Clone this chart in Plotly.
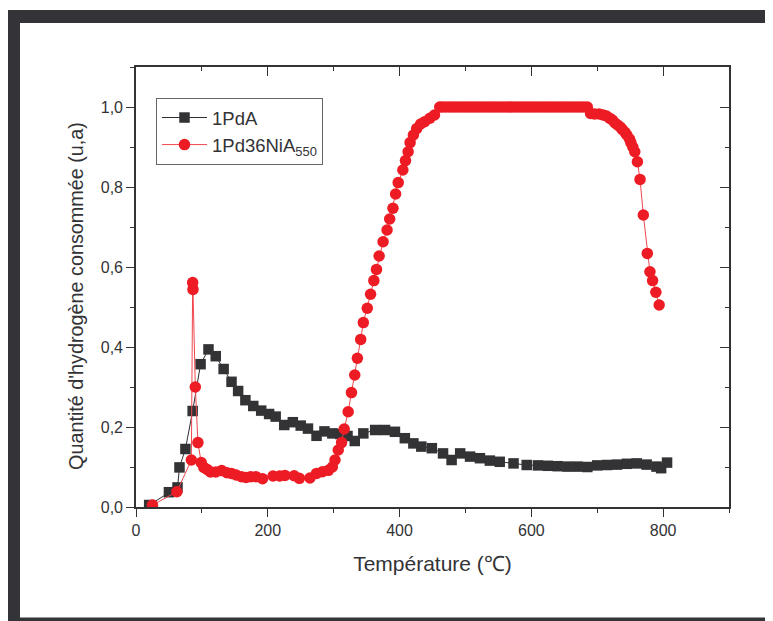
import plotly.graph_objects as go

# ---- data ----
temp_pda = [20, 50, 63, 66, 75, 86, 98, 110, 121, 133, 145, 155, 166, 178, 190, 202, 212, 225,
            238, 250, 261, 274, 286, 298, 310, 321, 332, 345, 363, 378, 393, 408, 421, 433, 449,
            466, 479, 492, 507, 522, 537, 552, 573, 593, 610, 625, 640, 655, 670, 685, 700, 715,
            730, 745, 760, 775, 790, 797, 806]
h2_pda = [0.005, 0.037, 0.049, 0.099, 0.145, 0.24, 0.357, 0.394, 0.377, 0.345, 0.313, 0.29,
          0.267, 0.2525, 0.241, 0.2325, 0.226, 0.205, 0.212, 0.2035, 0.196, 0.178, 0.189, 0.184,
          0.1825, 0.1775, 0.165, 0.184, 0.1925, 0.1925, 0.188, 0.172, 0.159, 0.151, 0.147, 0.134,
          0.1175, 0.134, 0.126, 0.122, 0.116, 0.113, 0.109, 0.105, 0.104, 0.103, 0.102, 0.101,
          0.101, 0.100, 0.104, 0.105, 0.106, 0.108, 0.109, 0.106, 0.101, 0.097, 0.111]

temp_pdni = [25, 62, 84, 86, 86.5, 90, 94, 99, 103, 108, 113, 121, 130, 138, 145, 152, 160, 167,
             174, 182, 192, 208, 218, 226, 240, 248, 264, 274, 283, 292, 298, 302, 307, 312, 316,
             322, 327, 332, 336, 341, 345, 351, 356, 361, 365, 369, 375, 381, 385, 390, 394, 398,
             405, 409, 413, 416, 421, 426, 432, 438, 446, 453, 461,
             465, 470, 475, 480, 485, 490, 495, 500, 505, 510, 515, 520, 525, 530, 535, 540, 545,
             550, 555, 560, 565, 570, 575, 580, 585, 590, 595, 600, 605, 610, 615, 620, 625, 630,
             635, 640, 645, 650, 655, 660, 665, 670, 675, 680, 685, 690,
             696, 703, 709, 714, 719, 723, 727, 731, 735, 738, 742, 745, 749, 751, 754, 757, 761,
             765, 770, 776, 780, 784, 789, 794, 800]
h2_pdni = [0.005, 0.038, 0.1175, 0.561, 0.544, 0.30, 0.161, 0.111, 0.099, 0.094, 0.0875, 0.0875,
           0.091, 0.0857, 0.084, 0.080, 0.0758, 0.074, 0.0758, 0.0758, 0.0708, 0.0775, 0.0775,
           0.079, 0.078, 0.0717, 0.0725, 0.084, 0.088, 0.0917, 0.100, 0.1175, 0.1425, 0.161,
           0.195, 0.238, 0.286, 0.33, 0.372, 0.419, 0.461, 0.497, 0.532, 0.566, 0.594, 0.6275,
           0.663, 0.6925, 0.72, 0.747, 0.7825, 0.811, 0.8425, 0.866, 0.888, 0.911, 0.93, 0.946,
           0.9575, 0.963, 0.972, 0.98, 1.0,
           1.0, 1.0, 1.0, 1.0, 1.0, 1.0, 1.0, 1.0, 1.0, 1.0, 1.0, 1.0, 1.0, 1.0, 1.0, 1.0, 1.0,
           1.0, 1.0, 1.0, 1.0, 1.0, 1.0, 1.0, 1.0, 1.0, 1.0, 1.0, 1.0, 1.0, 1.0, 1.0, 1.0,
           1.0, 1.0, 1.0, 1.0, 1.0, 1.0, 1.0, 1.0, 1.0, 1.0, 1.0, 1.0,
           0.984, 0.9825, 0.9825, 0.98, 0.9775, 0.972, 0.9675, 0.96, 0.955, 0.95, 0.944, 0.937,
           0.93, 0.92, 0.911, 0.90, 0.888, 0.863, 0.819, 0.73, 0.634, 0.588, 0.566, 0.537, 0.505]

x_ticks = [0, 200, 400, 600, 800]
y_ticks = [0.0, 0.2, 0.4, 0.6, 0.8, 1.0]

name_a = "1PdA"
name_b = "1Pd36NiA<sub>550</sub>"
x_title = "Température (℃)"
y_title = "Quantité d'hydrogène consommée (u,a)"

# ---- figure (page body adds an 8px offset) ----
OFF = 8
W, H = 773 - OFF, 621 - OFF
L, R, T, B = 136 - OFF, 44, 67 - OFF, 114
pw, ph = W - L - R, H - T - B
axis_col = "#333336"
FONT = "Liberation Sans, Arial, sans-serif"


def px(xw):
    return (xw - OFF - L) / pw


def py(yw):
    return (H - B - (yw - OFF)) / ph


fig = go.Figure()
fig.add_trace(go.Scatter(
    x=temp_pda, y=h2_pda, name=name_a, mode="lines+markers",
    line=dict(color="#2e2e32", width=1),
    marker=dict(symbol="square", size=10.5, color="#333336"),
))
fig.add_trace(go.Scatter(
    x=temp_pdni, y=h2_pdni, name=name_b, mode="lines+markers",
    line=dict(color="#f0484e", width=1),
    marker=dict(symbol="circle", size=11.5, color="#ed1c24"),
))

common_x = dict(range=[0, 900], tickvals=x_ticks, showgrid=False, zeroline=False,
                linecolor=axis_col, linewidth=1.6, tickcolor=axis_col, tickwidth=1.4)
common_y = dict(range=[0, 1.1], tickvals=y_ticks, showgrid=False, zeroline=False,
                linecolor=axis_col, linewidth=1.6, tickcolor=axis_col, tickwidth=1.4)

fig.update_layout(
    width=W, height=H,
    margin=dict(l=L, r=R, t=T, b=B),
    paper_bgcolor="white", plot_bgcolor="white",
    separators=",.",
    font=dict(family=FONT, color="#333336", size=16),
    showlegend=True,
    legend=dict(x=px(156), y=py(98), xanchor="left", yanchor="top",
                bordercolor="#666666", borderwidth=1, bgcolor="white",
                font=dict(size=18.5, color="#333336"), tracegroupgap=0,
                itemwidth=45),
    xaxis=dict(**common_x, ticks="outside", ticklen=8, tickformat="d",
               tickfont=dict(size=16),
               minor=dict(dtick=100, ticks="outside", ticklen=4, tickcolor=axis_col, tickwidth=1.2),
               title=dict(text=x_title, font=dict(size=21), standoff=18)),
    yaxis=dict(**common_y, ticks="outside", ticklen=8, tickformat=".1f",
               tickfont=dict(size=16),
               minor=dict(dtick=0.1, ticks="outside", ticklen=4, tickcolor=axis_col, tickwidth=1.2)),
    xaxis2=dict(**common_x, overlaying="x", side="top", ticks="inside", ticklen=9,
                showticklabels=False,
                minor=dict(dtick=100, ticks="inside", ticklen=4, tickcolor=axis_col, tickwidth=1.2)),
    yaxis2=dict(**common_y, overlaying="y", side="right", ticks="inside", ticklen=9,
                showticklabels=False,
                minor=dict(dtick=0.1, ticks="inside", ticklen=4, tickcolor=axis_col, tickwidth=1.2)),
)
fig.add_trace(go.Scatter(x=[None], y=[None], xaxis="x2", yaxis="y2", showlegend=False,
                         hoverinfo="skip"))

# y-axis title as annotation for exact placement
fig.add_annotation(text=y_title, textangle=-90, xref="paper", yref="paper",
                   x=px(76), y=py(296), xanchor="center", yanchor="middle",
                   showarrow=False, font=dict(size=19.8, color="#333336"))

frame_col = "#333338"
shapes = [
    dict(type="rect", xref="paper", yref="paper", x0=px(7), x1=px(780), y0=py(10), y1=py(23),
         fillcolor=frame_col, line=dict(width=0), layer="above"),
    dict(type="rect", xref="paper", yref="paper", x0=px(7), x1=px(20), y0=py(630), y1=py(10),
         fillcolor=frame_col, line=dict(width=0), layer="above"),
    dict(type="rect", xref="paper", yref="paper", x0=px(7), x1=px(780), y0=py(630), y1=py(617.5),
         fillcolor=frame_col, line=dict(width=0), layer="above"),
]
fig.update_layout(shapes=shapes)

fig.write_html("out.html")
